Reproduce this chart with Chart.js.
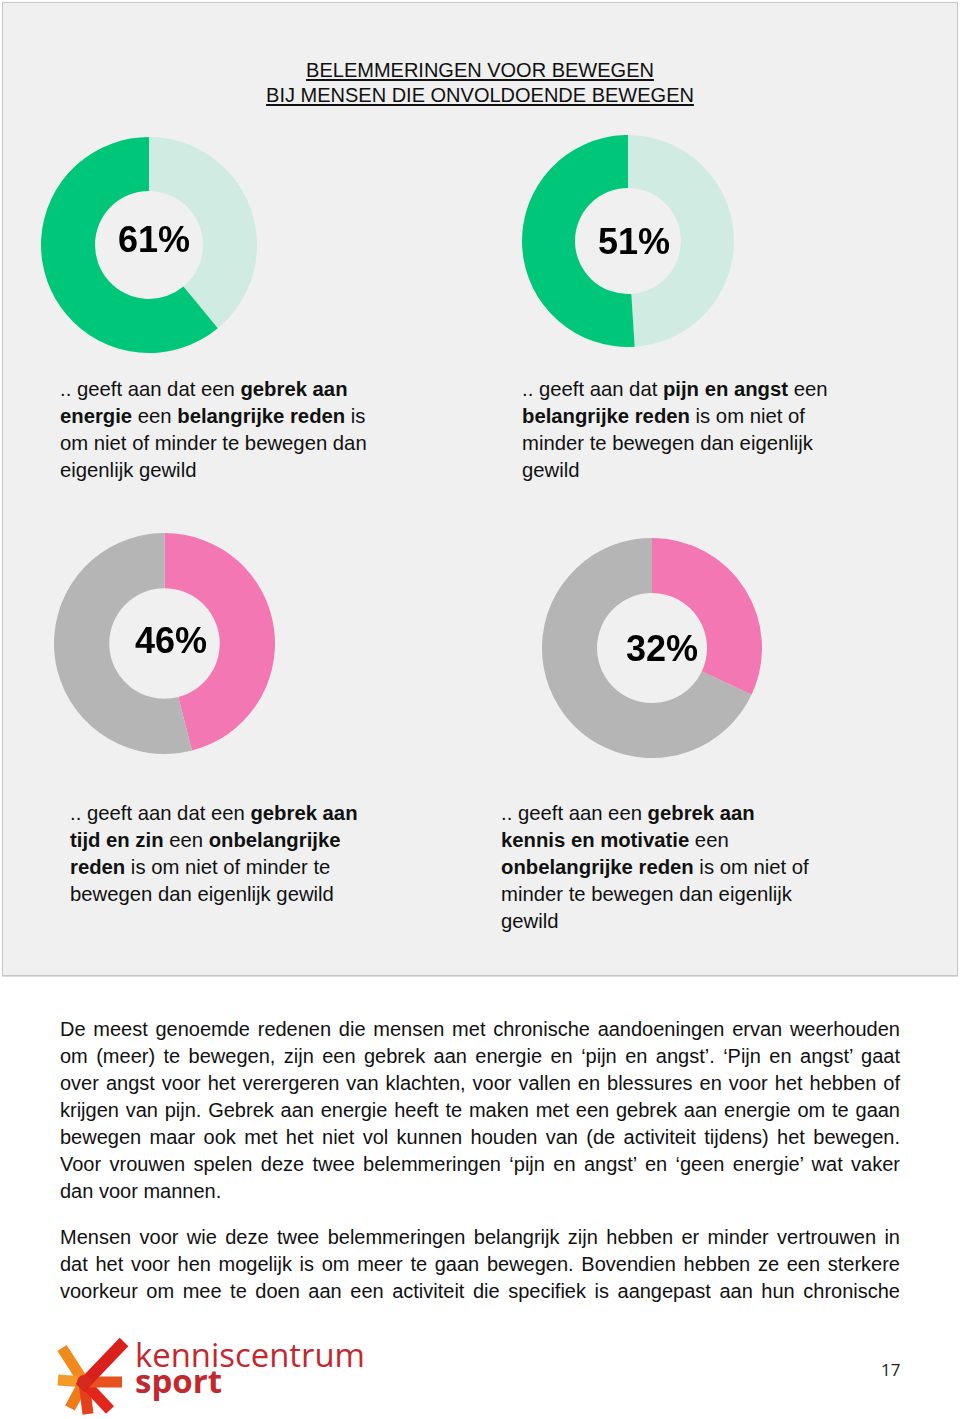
<!DOCTYPE html>
<html lang="nl">
<head>
<meta charset="utf-8">
<title>Belemmeringen voor bewegen</title>
<script src="https://cdn.jsdelivr.net/npm/chart.js@4.4.1/dist/chart.umd.min.js"></script>
<style>
  html, body { margin: 0; padding: 0; background: #fff; }
  body { width: 960px; height: 1419px; position: relative; overflow: hidden;
         font-family: "Liberation Sans", Arial, sans-serif; color: #111; }
  .box { position: absolute; left: 2px; top: 2px; width: 954px; height: 972px;
         background: #f0f0f0; border: 1px solid #c6c6c6; box-shadow: 0 1px 0 #dcdcdc; }
  .title { position: absolute; left: 0; top: 58px; width: 960px; text-align: center;
           font-size: 20px; line-height: 25px; }
  .title span { text-decoration: underline; text-underline-offset: 2px; }
  .pie { position: absolute; }
  .pie canvas { display: block; }
  .pct { position: absolute; font-weight: bold; font-size: 36px; line-height: 36px;
         transform: translate(-50%, -50%); white-space: nowrap; color: #000; }
  .caption { position: absolute; font-size: 20.3px; line-height: 27px; white-space: nowrap; }
  .caption b { font-weight: bold; }
  .body { position: absolute; left: 60px; width: 840px; font-size: 20px; line-height: 27px; }
  .body div { text-align: justify; text-align-last: justify; white-space: nowrap; }
  .body div.last { text-align: left; text-align-last: left; }
  .pagenr { position: absolute; left: 881px; top: 1358px; font-family: "Open Sans", sans-serif;
            font-size: 17px; color: #222; }
  .logo { position: absolute; left: 40px; top: 1330px; }
</style>
</head>
<body>
<div class="box"></div>
<div class="title"><span>BELEMMERINGEN VOOR BEWEGEN</span><br><span>BIJ MENSEN DIE ONVOLDOENDE BEWEGEN</span></div>

<div id="charts"></div>

<div class="caption" style="left:60px; top:376px;">.. geeft aan dat een <b>gebrek aan</b><br><b>energie</b> een <b>belangrijke reden</b> is<br>om niet of minder te bewegen dan<br>eigenlijk gewild</div>
<div class="caption" style="left:522px; top:376px;">.. geeft aan dat <b>pijn en angst</b> een<br><b>belangrijke reden</b> is om niet of<br>minder te bewegen dan eigenlijk<br>gewild</div>
<div class="caption" style="left:70px; top:800px;">.. geeft aan dat een <b>gebrek aan</b><br><b>tijd en zin</b> een <b>onbelangrijke</b><br><b>reden</b> is om niet of minder te<br>bewegen dan eigenlijk gewild</div>
<div class="caption" style="left:501px; top:800px;">.. geeft aan een <b>gebrek aan</b><br><b>kennis en motivatie</b> een<br><b>onbelangrijke reden</b> is om niet of<br>minder te bewegen dan eigenlijk<br>gewild</div>

<div class="body" style="top:1016px;">
  <div>De meest genoemde redenen die mensen met chronische aandoeningen ervan weerhouden</div>
  <div>om (meer) te bewegen, zijn een gebrek aan energie en ‘pijn en angst’. ‘Pijn en angst’ gaat</div>
  <div>over angst voor het verergeren van klachten, voor vallen en blessures en voor het hebben of</div>
  <div>krijgen van pijn. Gebrek aan energie heeft te maken met een gebrek aan energie om te gaan</div>
  <div>bewegen maar ook met het niet vol kunnen houden van (de activiteit tijdens) het bewegen.</div>
  <div>Voor vrouwen spelen deze twee belemmeringen ‘pijn en angst’ en ‘geen energie’ wat vaker</div>
  <div class="last">dan voor mannen.</div>
</div>
<div class="body" style="top:1224px;">
  <div>Mensen voor wie deze twee belemmeringen belangrijk zijn hebben er minder vertrouwen in</div>
  <div>dat het voor hen mogelijk is om meer te gaan bewegen. Bovendien hebben ze een sterkere</div>
  <div>voorkeur om mee te doen aan een activiteit die specifiek is aangepast aan hun chronische</div>
</div>

<svg class="logo" width="340" height="89" viewBox="0 0 340 89">
  <g stroke-linecap="butt" stroke-width="11" fill="none">
    <line x1="44" y1="52" x2="22" y2="18" stroke="#f08a1c"/>
    <line x1="44" y1="52" x2="18" y2="50" stroke="#f39a2a"/>
    <line x1="44" y1="52" x2="30" y2="78" stroke="#ee7a1a"/>
    <line x1="44" y1="52" x2="48" y2="84" stroke="#e5401e"/>
    <line x1="44" y1="52" x2="70" y2="80" stroke="#e3261c"/>
    <line x1="44" y1="52" x2="82" y2="52" stroke="#e8521e"/>
    <line x1="40" y1="58" x2="84" y2="12" stroke="#d9201c" stroke-width="12"/>
  </g>
  <circle cx="44" cy="52" r="7" fill="#d52a1f"/>
  <text font-family="Open Sans, sans-serif" font-size="33" fill="#c3282f"><tspan x="95" y="37" textLength="230" lengthAdjust="spacingAndGlyphs">kenniscentrum</tspan><tspan x="95" y="63" font-weight="bold" textLength="87" lengthAdjust="spacingAndGlyphs">sport</tspan></text>
</svg>

<div class="pagenr">17</div>

<script>
// percentages shown in the doughnuts
const shares = [61, 51, 46, 32]
// remaining part of each ring
const rests = [39, 49, 54, 68]
// true = share drawn counter-clockwise from the top (green rings)
const shareLast = [true, true, false, false]
const shareColors = ["#00c67a", "#00c67a", "#f277b3", "#f277b3"]
const restColors = ["#d0ebe1", "#d0ebe1", "#b5b5b5", "#b5b5b5"]

// where each ring sits on the page
const layout = [
    { left: 41, top: 137, size: 216, labelX: 154, labelY: 240 },
    { left: 522, top: 135, size: 212, labelX: 634, labelY: 242 },
    { left: 54, top: 533, size: 221, labelX: 171, labelY: 641 },
    { left: 542, top: 538, size: 220, labelX: 662, labelY: 649 }
]

const holder = document.getElementById("charts")

shares.forEach((share, i) => {
    const pos = layout[i]
    const wrap = document.createElement("div")
    wrap.className = "pie"
    wrap.style.left = pos.left + "px"
    wrap.style.top = pos.top + "px"
    const canvas = document.createElement("canvas")
    canvas.width = pos.size
    canvas.height = pos.size
    wrap.appendChild(canvas)
    holder.appendChild(wrap)

    const label = document.createElement("div")
    label.className = "pct"
    label.style.left = pos.labelX + "px"
    label.style.top = pos.labelY + "px"
    label.textContent = share + "%"
    holder.appendChild(label)

    const values = shareLast[i] ? [rests[i], share] : [share, rests[i]]
    const colors = shareLast[i] ? [restColors[i], shareColors[i]] : [shareColors[i], restColors[i]]

    new Chart(canvas, {
        type: "doughnut",
        data: {
            labels: shareLast[i] ? ["rest", "share"] : ["share", "rest"],
            datasets: [{ data: values, backgroundColor: colors, borderWidth: 0 }]
        },
        options: {
            responsive: false,
            animation: false,
            events: [],
            cutout: "50%",
            layout: { padding: 0 },
            plugins: { legend: { display: false }, tooltip: { enabled: false } }
        }
    })
})
</script>
</body>
</html>
